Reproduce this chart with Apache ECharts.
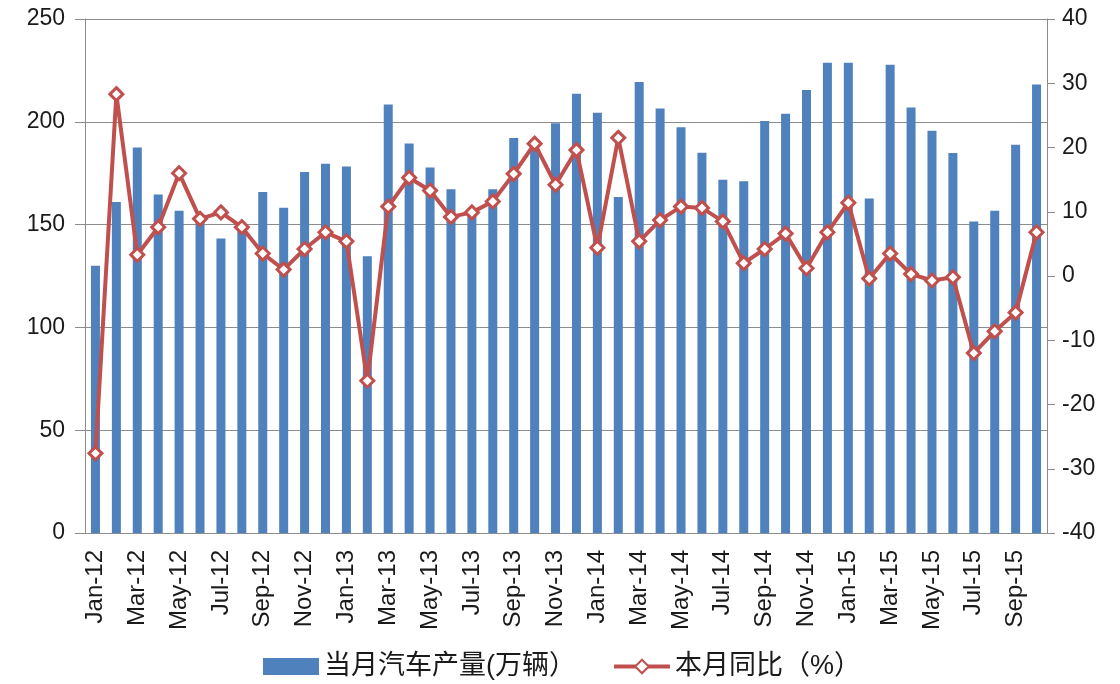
<!DOCTYPE html>
<html>
<head>
<meta charset="utf-8">
<script src="https://cdn.jsdelivr.net/npm/echarts@6/dist/echarts.min.js"></script>
<style>
  html, body { margin: 0; padding: 0; background: #fff; }
  #main { width: 1120px; height: 684px; }
</style>
</head>
<body>
<div id="main"></div>
<script>
// 月份（横坐标）
const months = [
  'Jan-12', 'Feb-12', 'Mar-12', 'Apr-12', 'May-12', 'Jun-12', 'Jul-12', 'Aug-12', 'Sep-12', 'Oct-12', 'Nov-12', 'Dec-12',
  'Jan-13', 'Feb-13', 'Mar-13', 'Apr-13', 'May-13', 'Jun-13', 'Jul-13', 'Aug-13', 'Sep-13', 'Oct-13', 'Nov-13', 'Dec-13',
  'Jan-14', 'Feb-14', 'Mar-14', 'Apr-14', 'May-14', 'Jun-14', 'Jul-14', 'Aug-14', 'Sep-14', 'Oct-14', 'Nov-14', 'Dec-14',
  'Jan-15', 'Feb-15', 'Mar-15', 'Apr-15', 'May-15', 'Jun-15', 'Jul-15', 'Aug-15', 'Sep-15', 'Oct-15'
]
// 当月汽车产量(万辆)
const output = [
  130, 161, 187.5, 164.6, 156.7, 153, 143.3, 149, 165.9, 158.2, 175.6, 179.6,
  178.3, 134.6, 208.4, 189.5, 177.8, 167.2, 156, 167.2, 192.1, 188, 199.3, 213.6,
  204.4, 163.4, 219.3, 206.5, 197.3, 184.9, 171.8, 171.1, 200.4, 203.9, 215.5, 228.7,
  228.7, 162.7, 227.8, 207, 195.7, 184.8, 151.5, 156.7, 188.8, 218.1
]
// 本月同比(%)
const yoy = [
  -27.6, 28.3, 3.3, 7.6, 16.0, 8.9, 9.9, 7.6, 3.5, 1.0, 4.2, 6.8,
  5.4, -16.3, 10.8, 15.3, 13.3, 9.2, 9.9, 11.6, 15.9, 20.6, 14.2, 19.6,
  4.4, 21.5, 5.4, 8.7, 10.8, 10.6, 8.5, 2.0, 4.2, 6.6, 1.2, 6.8,
  11.4, -0.4, 3.5, 0.3, -0.7, -0.2, -12.0, -8.6, -5.7, 6.8
]

const font = "'Liberation Sans', 'Noto Sans CJK SC', sans-serif"
const axisGray = '#8c8c8c'
const barColor = '#4F81BD'
const lineColor = '#C0504D'

let option = {
  animation: false,
  textStyle: { fontFamily: font, color: '#1a1a1a' },
  grid: { left: 85, right: 73, top: 19, bottom: 151 },
  legend: {
    bottom: -1,
    left: 258,
    itemWidth: 56,
    itemHeight: 17,
    itemGap: 36,
    textStyle: { fontSize: 27, fontFamily: font, color: '#1a1a1a' },
    data: [
      { name: '当月汽车产量(万辆）', icon: 'rect' },
      { name: '本月同比（%）', lineStyle: { width: 4, color: lineColor } }
    ]
  },
  xAxis: {
    type: 'category',
    data: months,
    axisLine: { lineStyle: { color: axisGray } },
    axisTick: { interval: 1, length: 10, lineStyle: { color: axisGray } },
    axisLabel: { interval: 1, rotate: 90, margin: 17, fontSize: 24, color: '#1a1a1a', fontFamily: font }
  },
  yAxis: [
    {
      type: 'value',
      min: 0, max: 250, interval: 50,
      axisLine: { show: true, lineStyle: { color: axisGray } },
      axisTick: { show: true, length: 10, lineStyle: { color: axisGray } },
      axisLabel: { fontSize: 23, margin: 20, color: '#1a1a1a', fontFamily: font },
      splitLine: { lineStyle: { color: axisGray, width: 1 } }
    },
    {
      type: 'value',
      min: -40, max: 40, interval: 10,
      axisLine: { show: true, lineStyle: { color: axisGray } },
      axisTick: { show: true, length: 8, lineStyle: { color: axisGray } },
      axisLabel: { fontSize: 23, margin: 15, color: '#1a1a1a', fontFamily: font },
      splitLine: { show: false }
    }
  ],
  series: [
    {
      name: '当月汽车产量(万辆）',
      type: 'bar',
      data: output,
      barWidth: 9,
      itemStyle: { color: barColor }
    },
    {
      name: '本月同比（%）',
      type: 'line',
      yAxisIndex: 1,
      data: yoy,
      symbol: 'diamond',
      symbolSize: 13,
      lineStyle: { color: lineColor, width: 4 },
      itemStyle: { color: '#fff', borderColor: lineColor, borderWidth: 3 }
    }
  ]
}

let myChart = echarts.init(document.getElementById('main'))
myChart.setOption(option)
</script>
</body>
</html>
